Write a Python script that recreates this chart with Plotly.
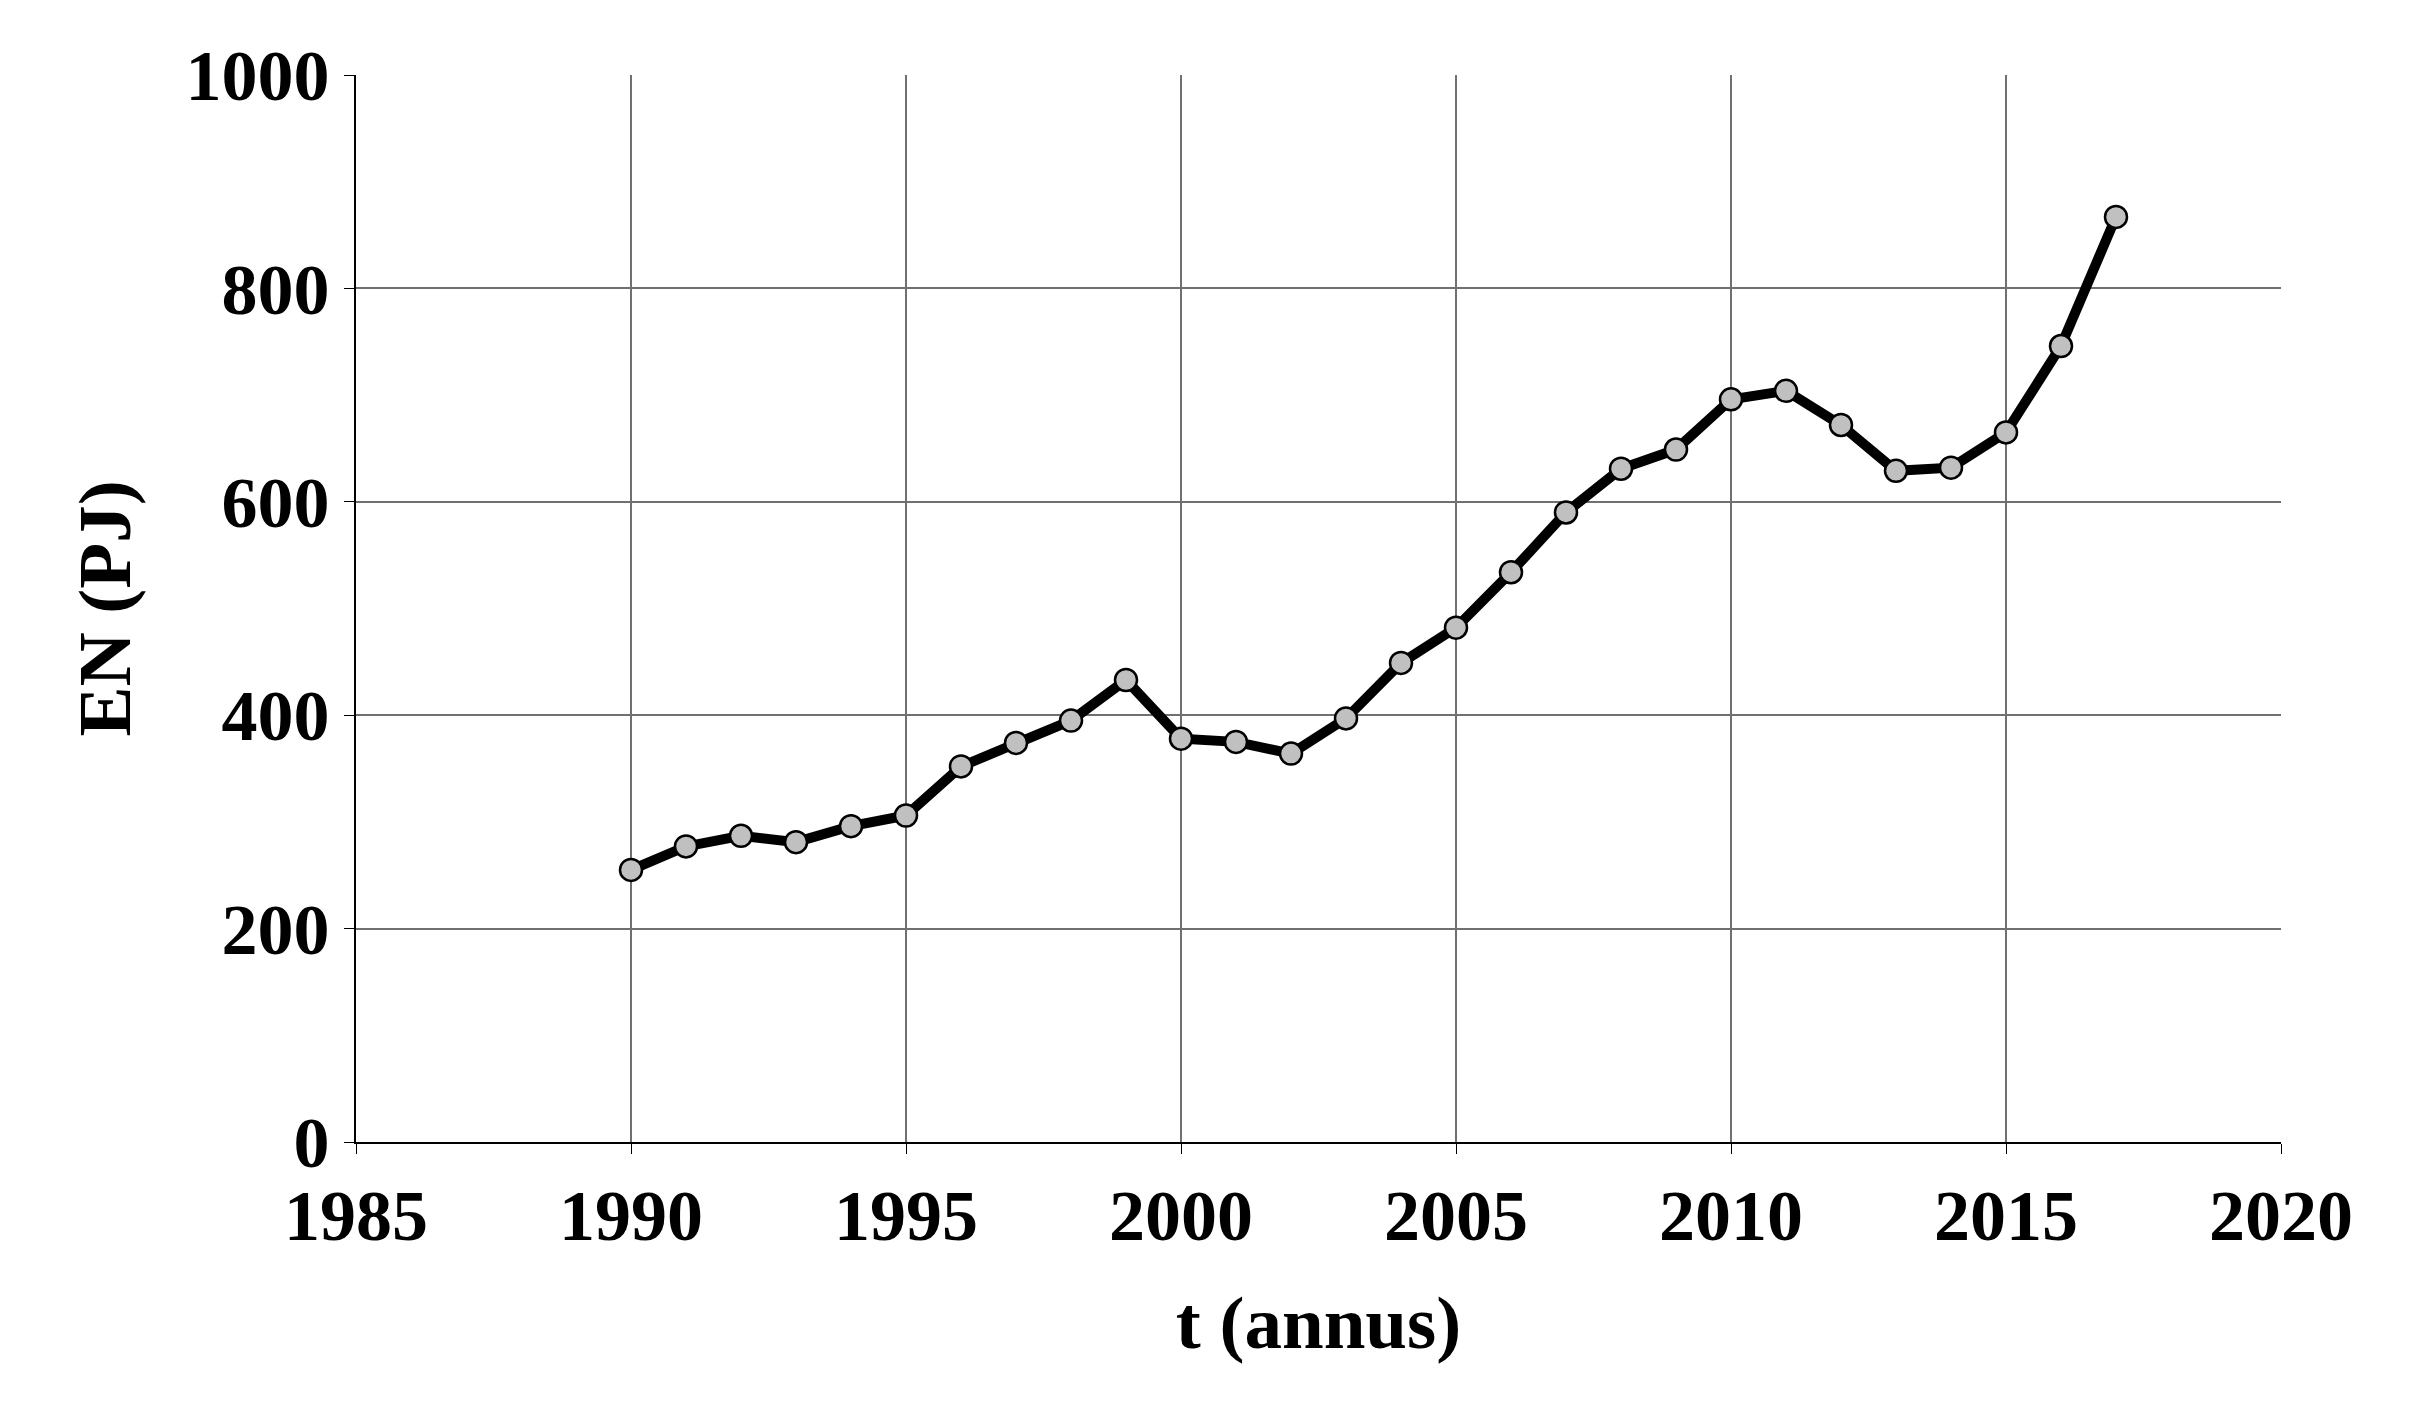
import plotly.graph_objects as go

years = list(range(1990, 2018))
en_pj = [255, 277, 287, 281, 296, 306, 352, 374, 395, 433, 378, 375, 364, 397,
         449, 482, 534, 590, 631, 649, 696, 704, 672, 629, 632, 665, 746, 867]

font = dict(family="Liberation Serif", size=72, color="black")
fig = go.Figure(go.Scatter(
    x=years, y=en_pj, mode="lines+markers",
    line=dict(color="black", width=10),
    marker=dict(size=22, color="#c0c0c0", line=dict(color="black", width=2.5)),
))
axis = dict(showline=True, linecolor="black", linewidth=2, gridcolor="#707070",
            gridwidth=1.5, ticks="outside", ticklen=10, tickcolor="black",
            tickfont=dict(family="Liberation Serif", size=72, color="black"),
            zeroline=False, mirror=False)
fig.update_layout(
    width=2409, height=1401, plot_bgcolor="white", paper_bgcolor="white",
    margin=dict(l=348, r=136, t=67, b=267), showlegend=False,
    font=font,
    xaxis=dict(axis, range=[1985, 2020], dtick=5,
               title=dict(text="<b>t (annus)</b>", font=dict(family="Liberation Serif", size=75), standoff=40)),
    yaxis=dict(axis, range=[0, 1000], dtick=200,
               title=dict(text="<b>EN (PJ)</b>", font=dict(family="Liberation Serif", size=75), standoff=30)),
)
fig.update_xaxes(tickprefix="<b>", ticksuffix="</b>")
fig.update_yaxes(tickprefix="<b>", ticksuffix="</b>")
fig.write_html("out.html")
